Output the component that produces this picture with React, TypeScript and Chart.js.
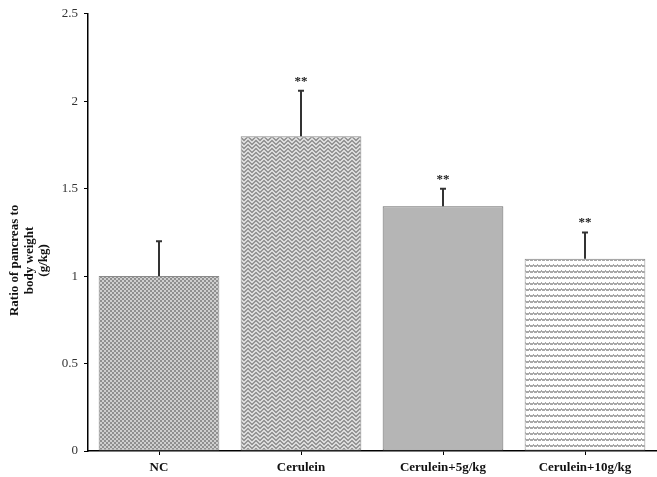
import React, { useEffect, useRef } from "react";
import { Chart, registerables } from "chart.js";
Chart.register(...registerables);

const categories = ["NC", "Cerulein", "Cerulein+5g/kg", "Cerulein+10g/kg"];
const means = [1.0, 1.8, 1.4, 1.1];
const errors = [0.2, 0.26, 0.1, 0.15];
const significance = ["", "**", "**", "**"];
const yTitle = ["Ratio of pancreas to", "body weight", "(g/kg)"];
const yMin = 0;
const yMax = 2.5;
const yStep = 0.5;

const FONT = "'Liberation Serif', 'Times New Roman', serif";

function makePattern(kind: string): CanvasPattern | string {
  const c = document.createElement("canvas");
  const g = c.getContext("2d")!;
  if (kind === "check") {
    c.width = 4; c.height = 4;
    g.fillStyle = "#cfcfcf"; g.fillRect(0, 0, 4, 4);
    g.fillStyle = "#8f8f8f";
    g.fillRect(0, 0, 2, 2); g.fillRect(2, 2, 2, 2);
  } else if (kind === "zigzag") {
    c.width = 8; c.height = 8;
    g.fillStyle = "#dcdcdc"; g.fillRect(0, 0, 8, 8);
    g.fillStyle = "#959595";
    const rows = [0, 4];
    rows.forEach((r) => {
      for (let x = 0; x < 8; x++) {
        const y = x < 4 ? x : 7 - x;
        g.fillRect(x, (r + y) % 8, 1, 1);
        g.fillRect(x, (r + y + 1) % 8, 1, 1);
      }
    });
  } else if (kind === "waves") {
    c.width = 4; c.height = 6;
    g.fillStyle = "#ffffff"; g.fillRect(0, 0, 4, 6);
    g.fillStyle = "#a8a8a8";
    g.fillRect(0, 1, 1, 1); g.fillRect(1, 0, 1, 1); g.fillRect(1, 1, 1, 1);
    g.fillRect(2, 1, 1, 1); g.fillRect(2, 2, 1, 1); g.fillRect(3, 2, 1, 1);
    g.fillRect(0, 2, 1, 1); g.fillRect(3, 1, 1, 1);
  } else {
    return "#b5b5b5";
  }
  return g.createPattern(c, "repeat")!;
}

const errorBarPlugin = {
  id: "errorBars",
  afterDatasetsDraw(chart: any) {
    const ctx = chart.ctx;
    const meta = chart.getDatasetMeta(0);
    const yScale = chart.scales.y;
    ctx.save();
    meta.data.forEach((el: any, i: number) => {
      const x = el.x;
      const yBase = yScale.getPixelForValue(means[i]);
      const yTop = yScale.getPixelForValue(means[i] + errors[i]);
      ctx.strokeStyle = "#333333";
      ctx.lineWidth = 2;
      ctx.beginPath();
      ctx.moveTo(x, yBase);
      ctx.lineTo(x, yTop);
      ctx.moveTo(x - 3, yTop);
      ctx.lineTo(x + 3, yTop);
      ctx.stroke();
      if (significance[i]) {
        ctx.fillStyle = "#222222";
        ctx.font = "bold 13px " + FONT;
        ctx.textAlign = "center";
        ctx.textBaseline = "bottom";
        ctx.fillText(significance[i], x, yTop - 3);
      }
    });
    ctx.restore();
  },
};

const yTitlePlugin = {
  id: "yTitleMulti",
  afterDraw(chart: any) {
    const ctx = chart.ctx;
    const area = chart.chartArea;
    const cy = (area.top + area.bottom) / 2 + 28;
    ctx.save();
    ctx.translate(0, cy);
    ctx.rotate(-Math.PI / 2);
    ctx.fillStyle = "#111111";
    ctx.font = "bold 13px " + FONT;
    ctx.textAlign = "center";
    ctx.textBaseline = "middle";
    const offs = [15, 30, 44];
    yTitle.forEach((line, i) => ctx.fillText(line, 0, offs[i]));
    ctx.restore();
  },
};

export default function App() {
  const ref = useRef<HTMLCanvasElement>(null);
  useEffect(() => {
    document.body.style.margin = "0";
    const canvas = ref.current!;
    const patterns = [makePattern("check"), makePattern("zigzag"), makePattern("solid"), makePattern("waves")];
    const chart = new Chart(canvas, {
      type: "bar",
      data: {
        labels: categories,
        datasets: [
          {
            data: means,
            backgroundColor: patterns as any,
            borderColor: ["#8a8a8a", "#8a8a8a", "#6a6a6a", "#8a8a8a"],
            borderWidth: 1,
            borderSkipped: false,
            barPercentage: 0.85,
            categoryPercentage: 1,
          },
        ],
      },
      options: {
        responsive: false,
        animation: false,
        layout: { padding: { top: 13, right: 1, left: 0, bottom: 0 } },
        plugins: {
          legend: { display: false },
          tooltip: { enabled: false },
        },
        scales: {
          x: {
            afterFit: (s: any) => { s.height = 26; },
            grid: { display: true, drawOnChartArea: false, drawTicks: true, tickLength: 4, offset: false, color: "#000" },
            border: { display: true, color: "#000", width: 1.5 },
            ticks: { color: "#111", font: { family: FONT, size: 13, weight: "bold" }, padding: 5 },
          },
          y: {
            min: yMin,
            max: yMax,
            afterFit: (s: any) => { s.width = 88; },
            grid: { display: true, drawOnChartArea: false, drawTicks: true, tickLength: 4, color: "#000" },
            border: { display: true, color: "#000", width: 1.5 },
            ticks: {
              stepSize: yStep,
              color: "#333",
              font: { family: FONT, size: 13 },
              padding: 6,
              callback: (v: any) => String(Number(v)),
            },
          },
        },
      },
      plugins: [errorBarPlugin, yTitlePlugin],
    });
    return () => chart.destroy();
  }, []);
  return (
    <div style={{ width: 657, height: 477 }}>
      <canvas ref={ref} width={657} height={477} style={{ display: "block" }} />
    </div>
  );
}
